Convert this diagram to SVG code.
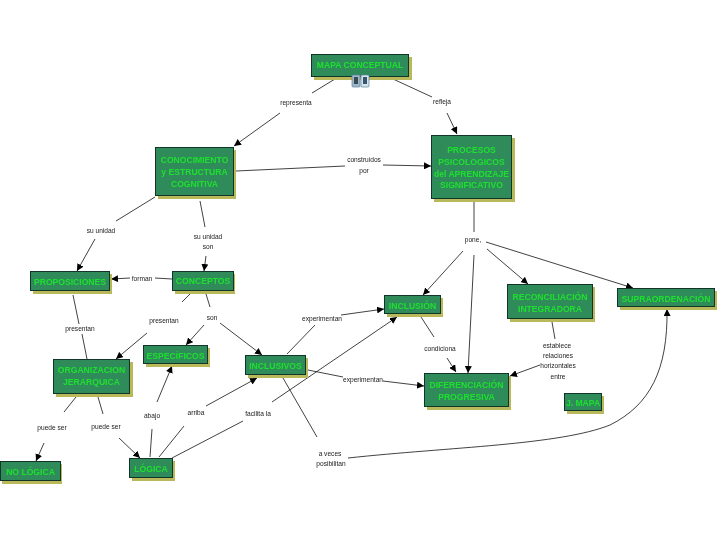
<svg xmlns="http://www.w3.org/2000/svg" width="720" height="540" viewBox="0 0 720 540">
<style>
.s{fill:#b9b85a}
.b{fill:#2f8b59;stroke:#12352a;stroke-width:1}
.t{font-family:"Liberation Sans",sans-serif;font-weight:bold;font-size:8.6px;fill:#1fe02f;text-anchor:middle;filter:url(#f)}
.l{font-family:"Liberation Sans",sans-serif;font-size:6.6px;fill:#222;text-anchor:middle;filter:url(#f)}
#connectors path{fill:none;stroke:#111;stroke-width:.8}
.a{marker-end:url(#h)}
</style>
<defs>
<marker id="h" viewBox="0 0 10 10" refX="10" refY="5" markerWidth="7" markerHeight="7" markerUnits="userSpaceOnUse" orient="auto"><path d="M0 0L10 5L0 10Z" fill="#000"/></marker>
<filter id="f" x="-10%" y="-30%" width="120%" height="160%"><feGaussianBlur stdDeviation="0.3"/></filter>
</defs>
<rect width="720" height="540" fill="#fff"/>
<g id="connectors">
<path d="M335 79L312 93"/><path class="a" d="M280 113L234 146"/>
<path d="M393 79L432 97"/><path class="a" d="M447 113L457 134"/>
<path d="M236 171L345 166"/><path class="a" d="M383 165L431 166"/>
<path d="M474 202L474 232"/>
<path class="a" d="M463 251L423 295"/><path class="a" d="M474 255L468 373"/>
<path class="a" d="M487 249L528 284"/><path class="a" d="M486 242L633 288"/>
<path d="M552 322L555 339"/><path class="a" d="M540 365L510 376"/>
<path class="a" d="M348 458C450 447 560 445 610 425C650 405 668 370 667 309"/>
<path d="M283 378L317 437"/>
<path d="M308 370L343 377"/><path class="a" d="M383 381L424 386"/>
<path d="M287 354L315 325"/><path class="a" d="M341 315L384 309"/>
<path d="M421 317L434 337"/><path class="a" d="M447 358L456 372"/>
<path class="a" d="M272 402L397 317"/><path d="M172 458L243 421"/>
<path d="M159 457L184 426"/><path class="a" d="M206 406L257 378"/>
<path d="M150 457L152 429"/><path class="a" d="M157 402L172 366"/>
<path d="M76 397L64 412"/><path class="a" d="M44 443L36 461"/>
<path d="M98 397L103 414"/><path class="a" d="M119 438L140 458"/>
<path d="M73 295L79 324"/><path d="M82 334L87 359"/>
<path d="M191 293L182 302"/><path class="a" d="M147 333L116 359"/>
<path d="M206 294L210 307"/><path class="a" d="M204 325L186 345"/><path class="a" d="M220 323L262 355"/>
<path d="M155 197L116 221"/><path class="a" d="M95 239L77 271"/>
<path d="M200 201L205 227"/><path class="a" d="M206 256L204 271"/>
<path d="M172 279L155 278"/><path class="a" d="M130 278L111 279"/>
</g>
<g id="link-labels">
<text class="l" x="296" y="105">representa</text>
<text class="l" x="442" y="104">refleja</text>
<text class="l" x="364" y="162">construidos</text>
<text class="l" x="364" y="173">por</text>
<text class="l" x="101" y="233">su unidad</text>
<text class="l" x="208" y="239">su unidad</text>
<text class="l" x="208" y="249">son</text>
<text class="l" x="142" y="281">forman</text>
<text class="l" x="80" y="331">presentan</text>
<text class="l" x="164" y="323">presentan</text>
<text class="l" x="212" y="320">son</text>
<text class="l" x="152" y="418">abajo</text>
<text class="l" x="196" y="415">arriba</text>
<text class="l" x="258" y="416">facilita la</text>
<text class="l" x="52" y="430">puede ser</text>
<text class="l" x="106" y="429">puede ser</text>
<text class="l" x="322" y="321">experimentan</text>
<text class="l" x="363" y="382">experimentan</text>
<text class="l" x="440" y="351">condiciona</text>
<text class="l" x="330" y="456">a veces</text>
<text class="l" x="331" y="466">posibilitan</text>
<text class="l" x="473" y="242">pone,</text>
<text class="l" x="557" y="348">establece</text>
<text class="l" x="558" y="358">relaciones</text>
<text class="l" x="558" y="368">horizontales</text>
<text class="l" x="558" y="379">entre</text>
</g>
<g id="mapa"><rect class="s" x="314" y="57" width="98" height="23"/><rect class="b" x="311.500" y="54.500" width="97" height="22"/><text class="t" x="360" y="68">MAPA CONCEPTUAL</text></g>
<g id="icons"><rect x="352" y="75" width="8" height="12" rx="1" fill="#9db8cc" stroke="#5c7f9a" stroke-width=".7"/><rect x="361" y="75" width="8" height="12" rx="1" fill="#d5e3ee" stroke="#5c7f9a" stroke-width=".7"/><rect x="354" y="77" width="4" height="7" fill="#3c4a50"/><rect x="363" y="77" width="4" height="7" fill="#35566e"/></g>
<g id="procesos"><rect class="s" x="434" y="138" width="81" height="64"/><rect class="b" x="431.500" y="135.500" width="80" height="63"/><text class="t" x="471.500" y="153">PROCESOS</text><text class="t" x="471.500" y="165">PSICOLOGICOS</text><text class="t" x="471.500" y="176.500">del APRENDIZAJE</text><text class="t" x="471.500" y="188">SIGNIFICATIVO</text></g>
<g id="conocimiento"><rect class="s" x="158" y="150" width="78" height="49"/><rect class="b" x="155.500" y="147.500" width="78" height="48"/><text class="t" x="194.500" y="163">CONOCIMIENTO</text><text class="t" x="194.500" y="175">y ESTRUCTURA</text><text class="t" x="194.500" y="186.500">COGNITIVA</text></g>
<g id="proposiciones"><rect class="s" x="33" y="274" width="79" height="20"/><rect class="b" x="30.500" y="271.500" width="79" height="19"/><text class="t" x="70" y="284.500">PROPOSICIONES</text></g>
<g id="conceptos"><rect class="s" x="175" y="274" width="60" height="20"/><rect class="b" x="172.500" y="271.500" width="61" height="19"/><text class="t" x="203" y="284">CONCEPTOS</text></g>
<g id="organizacion"><rect class="s" x="56" y="362" width="77" height="35"/><rect class="b" x="53.500" y="359.500" width="76" height="34"/><text class="t" x="91.500" y="373">ORGANIZACION</text><text class="t" x="91.500" y="385">JERARQUICA</text></g>
<g id="especificos"><rect class="s" x="146" y="348" width="64" height="19"/><rect class="b" x="143.500" y="345.500" width="64" height="18"/><text class="t" x="175.500" y="358.500">ESPECÍFICOS</text></g>
<g id="no-logica"><rect class="s" x="2" y="464" width="60" height="20"/><rect class="b" x="0.500" y="461.500" width="60" height="19"/><text class="t" x="30.500" y="475">NO LÓGICA</text></g>
<g id="logica"><rect class="s" x="132" y="461" width="43" height="20"/><rect class="b" x="129.500" y="458.500" width="43" height="19"/><text class="t" x="151" y="472">LÓGICA</text></g>
<g id="inclusivos"><rect class="s" x="248" y="358" width="60" height="20"/><rect class="b" x="245.500" y="355.500" width="60" height="19"/><text class="t" x="275.500" y="369">INCLUSIVOS</text></g>
<g id="inclusion"><rect class="s" x="387" y="298" width="56" height="19"/><rect class="b" x="384.500" y="295.500" width="56" height="18"/><text class="t" x="412.500" y="309">INCLUSIÓN</text></g>
<g id="diferenciacion"><rect class="s" x="427" y="376" width="84" height="34"/><rect class="b" x="424.500" y="373.500" width="84" height="33"/><text class="t" x="466.500" y="388">DIFERENCIACIÓN</text><text class="t" x="466.500" y="400">PROGRESIVA</text></g>
<g id="reconciliacion"><rect class="s" x="510" y="287" width="85" height="35"/><rect class="b" x="507.500" y="284.500" width="85" height="34"/><text class="t" x="550" y="300">RECONCILIACIÓN</text><text class="t" x="550" y="311.500">INTEGRADORA</text></g>
<g id="supraordenacion"><rect class="s" x="620" y="291" width="97" height="19"/><rect class="b" x="617.500" y="288.500" width="97" height="18"/><text class="t" x="666" y="301.500">SUPRAORDENACIÓN</text></g>
<g id="j-mapa"><rect class="s" x="567" y="396" width="37" height="18"/><rect class="b" x="564.500" y="393.500" width="37" height="17"/><text class="t" x="583" y="405.500">J. MAPA</text></g>
</svg>
